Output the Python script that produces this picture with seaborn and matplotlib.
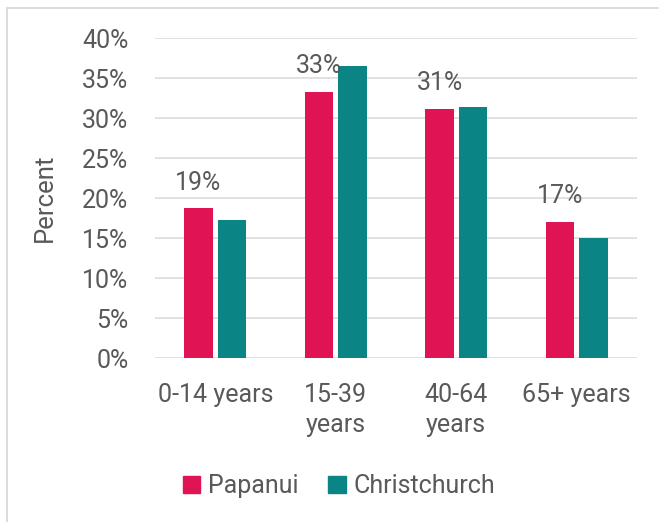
import matplotlib
matplotlib.use("Agg")
import matplotlib.pyplot as plt
import seaborn as sns
import pandas as pd
from matplotlib.lines import Line2D

categories = ["0-14 years", "15-39\nyears", "40-64\nyears", "65+ years"]
papanui = [18.7, 33.3, 31.1, 17.0]
christchurch = [17.25, 36.5, 31.4, 15.0]
series_names = ["Papanui", "Christchurch"]
yticks = [0, 5, 10, 15, 20, 25, 30, 35, 40]

colors = ["#E01454", "#0A8484"]
text_color = "#595959"
grid_color = "#D9D9D9"

sns.set_theme(style="white")
plt.rcParams['font.family'] = ['Roboto', 'DejaVu Sans']

df = pd.DataFrame({
    "Category": categories * 2,
    "Series": [series_names[0]] * 4 + [series_names[1]] * 4,
    "Value": papanui + christchurch,
})

fig = plt.figure(figsize=(6.59, 5.22), dpi=100)
ax = fig.add_axes([155/659, 1 - 358/522, (637 - 155)/659, (358 - 38)/522])

sns.barplot(data=df, x="Category", y="Value", hue="Series", order=categories,
            hue_order=series_names, palette=colors, width=0.554, gap=0.14,
            linewidth=0, saturation=1, ax=ax, legend=True)

ax.set_ylim(0, 40)
ax.set_xlim(-0.5, 3.5)
ax.set_yticks(yticks)
ax.set_yticklabels([f"{t}%" for t in yticks])
ax.yaxis.grid(True, color=grid_color, linewidth=1.1)
ax.set_axisbelow(True)
for s in ax.spines.values():
    s.set_visible(False)
ax.tick_params(axis="y", length=0, pad=19, labelsize=18, labelcolor=text_color)
ax.tick_params(axis="x", length=0, pad=18, labelsize=18, labelcolor=text_color)
ax.set_xlabel("")
ax.set_ylabel("Percent", fontsize=18.5, color=text_color, labelpad=18)
for lbl in ax.get_xticklabels():
    lbl.set_linespacing(1.3)

# data labels for Papanui
cont = ax.containers[0]
for bar, v in zip(cont, papanui):
    ax.annotate(f"{round(v)}%", (bar.get_x() + bar.get_width()/2, bar.get_height()),
                xytext=(0, 13.5), textcoords="offset points", ha="center", va="baseline",
                fontsize=18, color=text_color)

ax.legend_.remove()
handles = [plt.Rectangle((0, 0), 1, 1, color=c) for c in colors]
fig.legend(handles, series_names, loc="center", bbox_to_anchor=(339/659, 1 - 486/522),
           ncol=2, frameon=False, fontsize=18, labelcolor=text_color,
           handlelength=0.7, handleheight=0.7, handletextpad=0.3, columnspacing=1.2)

# outer chart border (top and left visible)
fig.add_artist(Line2D([6.5/659, 1], [1 - 8/522, 1 - 8/522], color=grid_color, linewidth=1.3))
fig.add_artist(Line2D([6.5/659, 6.5/659], [0, 1 - 8/522], color=grid_color, linewidth=1.3))

fig.savefig("out.png", dpi=100)
